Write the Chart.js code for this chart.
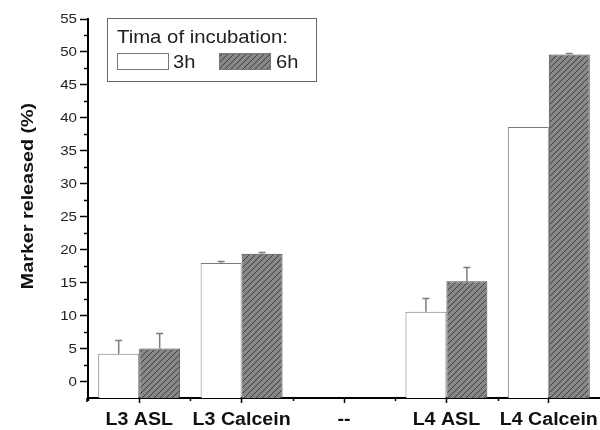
<!DOCTYPE html>
<html>
<head>
<meta charset="utf-8">
<script src="https://cdn.jsdelivr.net/npm/chart.js@4.4.1/dist/chart.umd.min.js"></script>
<style>
  html, body { margin: 0; padding: 0; background: #fff; }
  #wrap { width: 600px; height: 430px; }
</style>
</head>
<body>
<div id="wrap"><canvas id="chart"></canvas></div>
<script>
var categories = ['L3 ASL', 'L3 Calcein', '--', 'L4 ASL', 'L4 Calcein'];
var seriesNames = ['3h', '6h'];
var values3h = [4.2, 18.0, null, 10.6, 38.6];
var values6h = [5.0, 19.4, null, 15.2, 49.6];
var err3h = [2.1, 0.3, null, 2.1, 0];
var err6h = [2.4, 0.3, null, 2.1, 0.3];
var yTicks = [0, 5, 10, 15, 20, 25, 30, 35, 40, 45, 50, 55];
var yMin = -2.5, yMax = 55;
var yTitle = 'Marker released (%)';
var legendTitle = 'Tima of incubation:';

var FONT = '"Liberation Sans", Arial, sans-serif';

// diagonal hatch for the 6h bars
function hatch() {
  var c = document.createElement('canvas');
  c.width = 6; c.height = 6;
  var g = c.getContext('2d');
  g.fillStyle = '#878787';
  g.fillRect(0, 0, 6, 6);
  g.strokeStyle = '#404040';
  g.lineWidth = 1;
  g.beginPath();
  g.moveTo(-1, 7); g.lineTo(7, -1);
  g.moveTo(-4, 4); g.lineTo(4, -4);
  g.moveTo(2, 10); g.lineTo(10, 2);
  g.stroke();
  return g.createPattern(c, 'repeat');
}
var hatchFill = hatch();

// text is a little wide in this figure, so stretch horizontally
function wideText(ctx, text, x, y, sx, align) {
  ctx.save();
  ctx.translate(x, y);
  ctx.scale(sx, 1);
  ctx.textAlign = align || 'left';
  ctx.fillText(text, 0, 0);
  ctx.restore();
}

// empty category: draw nothing at all
function edge(c) { return c.raw == null ? 0 : 1; }
function fillOr(f) {
  return function (c) { return c.raw == null ? 'rgba(0,0,0,0)' : f; };
}

// upward error bars with caps
var errorBars = {
  id: 'errorBars',
  afterDatasetsDraw: function (chart) {
    var ctx = chart.ctx, y = chart.scales.y;
    var errs = [err3h, err6h];
    ctx.save();
    ctx.strokeStyle = '#7d7d7d';
    ctx.lineWidth = 1.5;
    chart.data.datasets.forEach(function (ds, i) {
      chart.getDatasetMeta(i).data.forEach(function (bar, j) {
        var v = ds.data[j], e = errs[i][j];
        if (v == null || e == null || e === 0) return;
        var top = Math.round(y.getPixelForValue(v + e)) + 0.5;
        var base = y.getPixelForValue(v);
        ctx.beginPath();
        ctx.moveTo(bar.x, base);
        ctx.lineTo(bar.x, top);
        ctx.moveTo(bar.x - 3.5, top);
        ctx.lineTo(bar.x + 3.5, top);
        ctx.stroke();
      });
    });
    ctx.restore();
  }
};

// minor ticks, tick labels and the axis title
var axisText = {
  id: 'axisText',
  afterDraw: function (chart) {
    var ctx = chart.ctx, x = chart.scales.x, y = chart.scales.y;
    var step = x.getPixelForValue(1) - x.getPixelForValue(0);
    ctx.save();
    ctx.strokeStyle = '#000';
    ctx.lineWidth = 1.5;
    ctx.beginPath();
    for (var v = 2.5; v < yMax; v += 5) {
      var py = Math.round(y.getPixelForValue(v)) + 0.5;
      ctx.moveTo(y.right - 4, py);
      ctx.lineTo(y.right, py);
    }
    for (var k = 0; k < categories.length; k++) {
      var px = Math.round(x.getPixelForValue(k) - step / 2) + 0.5;
      ctx.moveTo(px, x.top);
      ctx.lineTo(px, x.top + 3);
    }
    // y axis runs a little past the x axis
    ctx.moveTo(y.right - 1, x.top);
    ctx.lineTo(y.right - 1, x.top + 4);
    ctx.stroke();

    ctx.fillStyle = '#222';
    ctx.font = '13.5px ' + FONT;
    ctx.textBaseline = 'middle';
    yTicks.forEach(function (t) {
      wideText(ctx, String(t), 77, y.getPixelForValue(t) + 0.5, 1.12, 'right');
    });

    ctx.fillStyle = '#111';
    ctx.font = 'bold 17.5px ' + FONT;
    ctx.textBaseline = 'alphabetic';
    categories.forEach(function (c, i) {
      wideText(ctx, c, x.getPixelForValue(i), 425, 1.12, 'center');
    });

    ctx.font = 'bold 17px ' + FONT;
    ctx.textBaseline = 'middle';
    ctx.translate(28, 196);
    ctx.rotate(-Math.PI / 2);
    wideText(ctx, yTitle, 0, 0, 1.16, 'center');
    ctx.restore();
  }
};

// boxed legend inside the plot
var boxLegend = {
  id: 'boxLegend',
  afterDraw: function (chart) {
    var ctx = chart.ctx;
    ctx.save();
    ctx.fillStyle = '#fff';
    ctx.fillRect(107, 18, 209, 63);
    ctx.strokeStyle = '#666';
    ctx.lineWidth = 1;
    ctx.strokeRect(107.5, 18.5, 209, 63);
    ctx.fillStyle = '#222';
    ctx.font = '19px ' + FONT;
    ctx.textBaseline = 'alphabetic';
    wideText(ctx, legendTitle, 117, 43, 1.07);
    ctx.fillStyle = '#fff';
    ctx.fillRect(117, 53, 51, 16);
    ctx.strokeStyle = '#777';
    ctx.strokeRect(117.5, 53.5, 51, 16);
    ctx.fillStyle = hatchFill;
    ctx.fillRect(219, 53, 51, 16);
    ctx.strokeRect(219.5, 53.5, 51, 16);
    ctx.fillStyle = '#222';
    wideText(ctx, seriesNames[0], 173, 68, 1.06);
    wideText(ctx, seriesNames[1], 276, 68, 1.06);
    ctx.restore();
  }
};

var ctx = document.getElementById('chart').getContext('2d');
new Chart(ctx, {
  type: 'bar',
  data: {
    labels: categories,
    datasets: [{
      label: seriesNames[0],
      data: values3h,
      base: yMin,
      backgroundColor: fillOr('#fff'),
      borderColor: '#7a7a7a',
      borderWidth: edge
    }, {
      label: seriesNames[1],
      data: values6h,
      base: yMin,
      backgroundColor: fillOr(hatchFill),
      borderColor: '#4a4a4a',
      borderWidth: edge
    }]
  },
  options: {
    responsive: true,
    maintainAspectRatio: false,
    animation: false,
    layout: { padding: { top: 19, right: 0, left: 0, bottom: 0 } },
    plugins: { legend: { display: false }, tooltip: { enabled: false } },
    datasets: { bar: { categoryPercentage: 0.8, barPercentage: 1.0 } },
    scales: {
      x: {
        z: 1,
        grid: { drawOnChartArea: false, offset: false, tickLength: 5, tickWidth: 1.5, tickColor: '#000' },
        border: { color: '#000', width: 2 },
        ticks: { display: false },
        afterFit: function (s) { s.height = 32; }
      },
      y: {
        z: 1,
        min: yMin,
        max: yMax,
        afterBuildTicks: function (s) { s.ticks = yTicks.map(function (v) { return { value: v }; }); },
        grid: { drawOnChartArea: false, tickLength: 8, tickWidth: 1.5, tickColor: '#000' },
        border: { color: '#000', width: 2 },
        ticks: { display: false },
        afterFit: function (s) { s.width = 88; }
      }
    }
  },
  plugins: [errorBars, axisText, boxLegend]
});
</script>
</body>
</html>
